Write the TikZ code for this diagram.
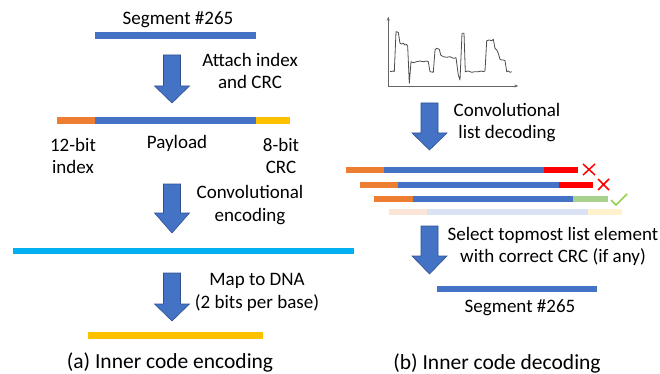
\documentclass[tikz,border=0pt]{standalone}
\usepackage{fontspec}
\setmainfont{Carlito}
\usetikzlibrary{arrows.meta}
\definecolor{cblue}{HTML}{4472C4}
\definecolor{corange}{HTML}{ED7D31}
\definecolor{cyellow}{HTML}{FFC000}
\definecolor{ccyan}{HTML}{00B0F0}
\definecolor{cred}{HTML}{FF0000}
\definecolor{cgreen}{HTML}{A9D18E}
\definecolor{cgreenck}{HTML}{92D050}
\definecolor{lorange}{HTML}{FBE5D6}
\definecolor{lblue}{HTML}{DAE3F3}
\definecolor{lyellow}{HTML}{FFF2CC}
\definecolor{arrowedge}{HTML}{2F528F}
\newcommand{\blockarrow}[4]{% x, ytop, yhead, ytip
  \fill[cblue,draw=arrowedge,line width=0.6] (#1-8.5,#2) -- (#1+8.5,#2) -- (#1+8.5,#3) -- (#1+17.5,#3) -- (#1,#4) -- (#1-17.5,#3) -- (#1-8.5,#3) -- cycle;}
\tikzset{
  txt/.style={font=\fontsize{19}{22.5}\selectfont, align=center, inner sep=0pt},
  captxt/.style={font=\fontsize{21.5}{25}\selectfont, inner sep=0pt},
  bar/.style={line width=6.5},
  thinbar/.style={line width=6},
}
\begin{document}
\begin{tikzpicture}[x=1pt,y=-1pt]
\useasboundingbox (0,0) rectangle (660,374);
% ---------- left panel ----------
\node[txt] (seg1) at (178,20) {Segment \#265};
\draw[bar,cblue] (95,35.5) -- (256,35.5);
\blockarrow{172}{55}{86}{103}
\node[txt] (attach) at (250,71) {Attach index\\and CRC};
\draw[bar,corange] (57,120.5) -- (95,120.5);
\draw[bar,cblue] (95,120.5) -- (256,120.5);
\draw[bar,cyellow] (256,120.5) -- (290,120.5);
\node[txt] (idx) at (73,156) {12-bit\\index};
\node[txt] (payload) at (177,143) {Payload};
\node[txt] (crc) at (281,156) {8-bit\\CRC};
\blockarrow{172}{184}{213}{233}
\node[txt] (convenc) at (250,205) {Convolutional\\encoding};
\draw[bar,ccyan] (13,251) -- (354,251);
\blockarrow{172}{273}{304}{321}
\node[txt] (map) at (257,292.5) {Map to DNA\\(2 bits per base)};
\draw[bar,cyellow] (88,335.5) -- (263,335.5);
\node[captxt] (capa) at (170,362) {(a) Inner code encoding};
% ---------- right panel ----------
\draw[gray!80!black,line width=0.6,-{Stealth[length=4,width=3]}] (388.3,86) -- (388.3,16.7);
\draw[gray!80!black,line width=0.6,-{Stealth[length=4,width=3]}] (388.3,86) -- (518.3,86);
\draw[black!70,line width=0.8,line join=round] (390,71.7) -- (393.3,71) -- (394.3,71.7) -- (396,31.7) -- (398.3,32.3) -- (400,43.3) -- (401.7,44) -- (403.3,43.3) -- (405,45) -- (406.7,44.3) -- (407.7,46.7) -- (409.3,83.3) -- (411,61.7) -- (413.3,62.7) -- (416.7,61.7) -- (420,61) -- (423.3,61.7) -- (426.7,61) -- (428.3,61.7) -- (430,71.7) -- (433.3,72.3) -- (435,50) -- (436.7,48.3) -- (439.3,49.3) -- (440.7,55) -- (443.3,56.7) -- (446.7,57.3) -- (450,56.7) -- (453.3,58.3) -- (456,57.7) -- (458.3,75) -- (460,80) -- (462,33.3) -- (464,33.3) -- (465.3,71.7) -- (468.3,71) -- (471.7,72.3) -- (475,71.7) -- (478.3,71.7) -- (481.7,71) -- (483.3,71.7) -- (485,71) -- (486.7,40.7) -- (489.3,40) -- (491.7,40.7) -- (493.3,39.3) -- (495,48.3) -- (496.7,50) -- (498.3,53.3) -- (500,59.3) -- (501.7,60) -- (503.3,60) -- (505,60.7) -- (506.7,71.7) -- (508.3,71) -- (510,72.3) -- (511.7,71.7);
\blockarrow{429.5}{103}{133}{150}
\node[txt] (listdec) at (507,122.5) {Convolutional\\list decoding};
% list rows
\draw[thinbar,corange] (346,170) -- (384,170);
\draw[thinbar,cblue] (384,170) -- (544,170);
\draw[thinbar,cred] (544,170) -- (578,170);
\draw[cred,line width=1.5] (583,164) -- (595,175) (583,175) -- (595,164);
\draw[thinbar,corange] (360,185) -- (398,185);
\draw[thinbar,cblue] (398,185) -- (559,185);
\draw[thinbar,cred] (559,185) -- (593,185);
\draw[cred,line width=1.5] (598,179) -- (609,190) (598,190) -- (609,179);
\draw[thinbar,corange] (374,199) -- (413,199);
\draw[thinbar,cblue] (413,199) -- (573,199);
\draw[thinbar,cgreen] (573,199) -- (608,199);
\draw[cgreenck,line width=1.5] (611,200) -- (616,205) -- (627,194);
\draw[thinbar,lorange] (389,212) -- (427,212);
\draw[thinbar,lblue] (427,212) -- (588,212);
\draw[thinbar,lyellow] (588,212) -- (622,212);
\blockarrow{429.5}{226}{256}{274}
\node[txt] (select) at (553,246.5) {Select topmost list element\\with correct CRC (if any)};
\draw[bar,cblue] (437,289) -- (597,289);
\node[txt] (seg2) at (520,308) {Segment \#265};
\node[captxt] (capb) at (497,363) {(b) Inner code decoding};
\end{tikzpicture}
\end{document}
